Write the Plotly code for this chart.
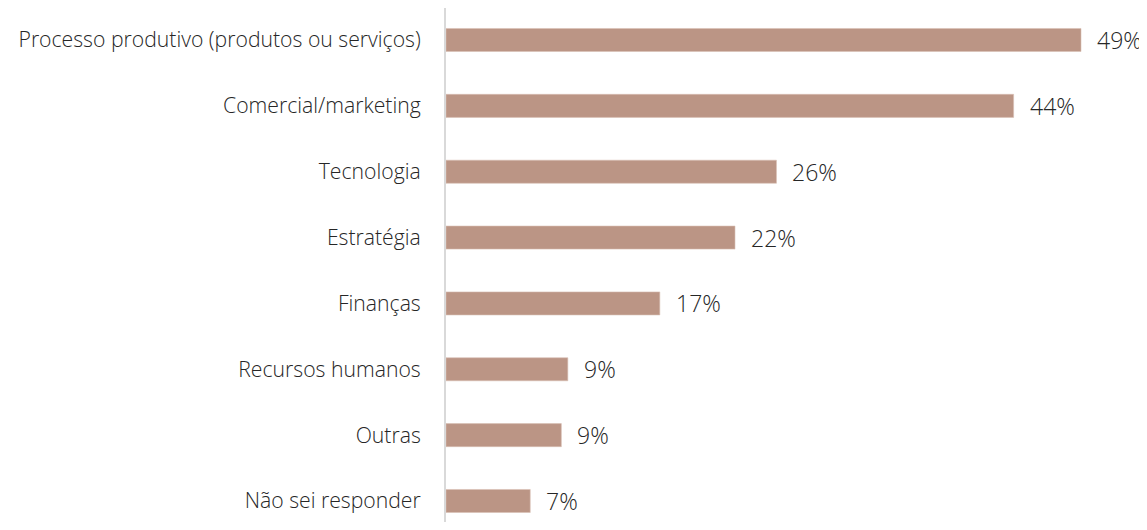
import plotly.graph_objects as go

categories = [
    "Processo produtivo (produtos ou serviços)",
    "Comercial/marketing",
    "Tecnologia",
    "Estratégia",
    "Finanças",
    "Recursos humanos",
    "Outras",
    "Não sei responder",
]
values = [49.0, 43.8, 25.5, 22.3, 16.5, 9.4, 8.9, 6.5]
labels = ["49%", "44%", "26%", "22%", "17%", "9%", "9%", "7%"]

BAR_COLOR = "#BB9585"
TEXT_COLOR = "#262626"
FONT = "Open Sans"

fig = go.Figure()
fig.add_trace(go.Bar(
    y=categories,
    x=values,
    orientation="h",
    width=0.35,
    marker=dict(color=BAR_COLOR, line=dict(color="#D9BFB4", width=0.6)),
    hoverinfo="skip",
))

for cat, v, lab in zip(categories, values, labels):
    fig.add_annotation(
        x=v, y=cat, text=lab, showarrow=False,
        xanchor="left", yanchor="middle", xshift=14,
        font=dict(family=FONT, size=23, color=TEXT_COLOR, weight=300),
    )

fig.update_layout(
    width=1139, height=514,
    margin=dict(l=438, r=20, t=0, b=0),
    paper_bgcolor="white", plot_bgcolor="white",
    showlegend=False,
    font=dict(family=FONT, size=20, color=TEXT_COLOR),
    xaxis=dict(range=[0, 52.55], visible=False, fixedrange=True),
    yaxis=dict(
        type="category",
        range=[7.319, -0.486],
        showline=True, linecolor="#D9D9D9", linewidth=2,
        showgrid=False, zeroline=False,
        ticks="", ticklabelstandoff=19,
        tickfont=dict(family=FONT, size=21.2, color=TEXT_COLOR, weight=300),
        fixedrange=True,
    ),
)

fig.write_html("out.html")
